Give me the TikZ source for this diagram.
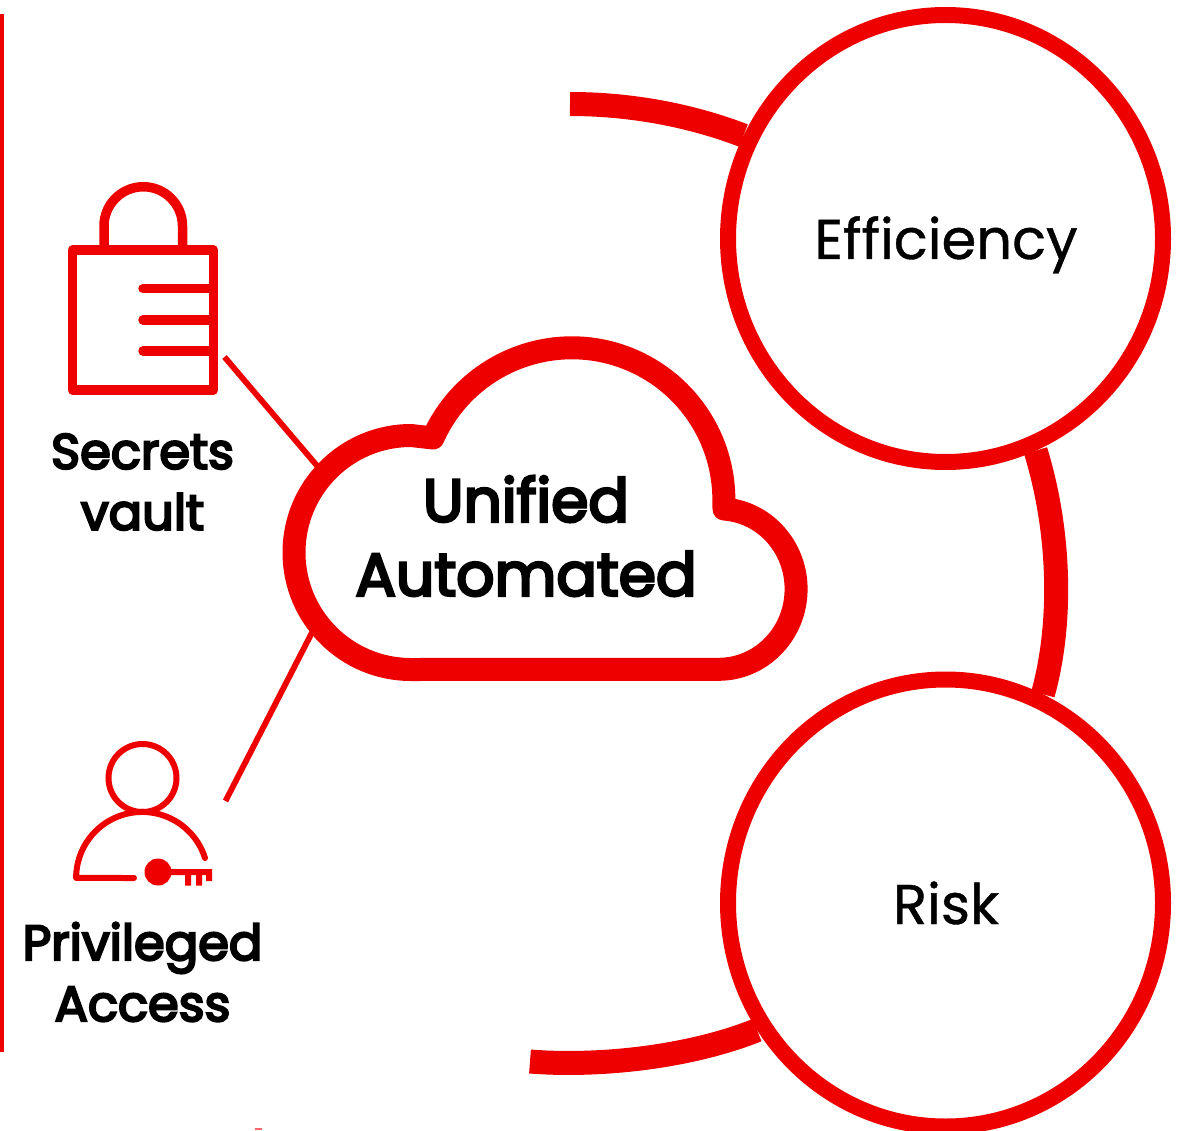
\documentclass[tikz,border=0pt]{standalone}
\usepackage{fontspec}
\setmainfont{Poppins}
\newfontfamily\medfont{Poppins}[FakeBold=0.7]
\newfontfamily\semifont{Poppins}[FakeBold=4.5]
\usetikzlibrary{shapes.geometric,backgrounds}
\definecolor{rhred}{RGB}{238,0,0}
\tikzset{
  ring/.style={draw=rhred,line width=16pt,fill=white,ellipse,inner sep=0pt},
  band/.style={draw=rhred,line width=24pt},
  thinlink/.style={draw=rhred,line width=5.8pt},
  icon/.style={draw=rhred,line width=9.5pt},
  person/.style={draw=rhred,line width=6pt,line cap=round},
  bigtext/.style={font=\medfont\fontsize{56}{56}\selectfont,text=black,anchor=base},
  cloudtext/.style={font=\semifont\fontsize{60}{74}\selectfont,text=black,align=center},
  labeltext/.style={font=\semifont\fontsize{49.5}{61}\selectfont,text=black,align=center}
}
\begin{document}
\begin{tikzpicture}[x=1pt,y=-1pt]
\useasboundingbox (0,0) rectangle (1182,1131);
% circles
\node[ring,minimum width=435pt,minimum height=447pt] (eff) at (945.5,238.5) {};
\node[ring,minimum width=435pt,minimum height=447pt] (risk) at (945.5,903) {};
\node[bigtext] (efftext) at (946,259) {Efficiency};
\node[bigtext] (risktext) at (946,924) {Risk};
\coordinate (topfree) at (570,104);
\coordinate (botfree) at (530,1061.5);
\coordinate (vaultfree) at (224.5,357);
\coordinate (cloudA) at (330,481);
\coordinate (accessfree) at (225.5,801);
\coordinate (cloudB) at (322,613);
\begin{pgfonlayer}{background}
\draw[band] (topfree) .. controls (630,104) and (690,115) .. (eff.153);
\draw[band] (eff.293) .. controls (1060,530) and (1063,622) .. (risk.65);
\draw[band] (botfree) .. controls (600,1067) and (690,1057) .. (risk.214);
\draw[thinlink] (vaultfree) -- (cloudA);
\draw[thinlink] (accessfree) -- (cloudB);
\end{pgfonlayer}
% cloud
\draw[draw=rhred,line width=23pt,fill=white,line join=round]
  (411,669.5) arc[start angle=90,end angle=270,radius=117]
  -- (433,438) arc[start angle=204,end angle=360,radius=152]
  -- (724,509) arc[start angle=-86,end angle=90,x radius=77.5,y radius=80.25]
  -- cycle;
\node[cloudtext] (cloud) at (526,536) {Unified\\Automated};
% side rule
\fill[rhred] (0,14) rectangle (4.3,1052);
% lock
\draw[icon,line join=round] (72.5,250) rectangle (213.5,390);
\draw[icon] (104,250) -- (104,226) arc[start angle=180,end angle=360,radius=39.25] -- (182.5,250);
\foreach \yy in {288.7,320,351}{
  \draw[icon,line cap=round] (143,\yy) -- (211,\yy);
}
\node[labeltext] (vault) at (142.5,482) {Secrets\\vault};
% person
\draw[person] (142.5,778) circle[radius=34];
\draw[person,line join=round] (205,858) arc[start angle=-17.6,end angle=-180,radius=66] -- (134,878);
\fill[rhred] (158,872) circle[radius=13.5];
\fill[rhred] (158,869) -- (212,869) -- (212,881) -- (206,881) -- (206,875) -- (202,875) -- (202,885.5) -- (196,885.5) -- (196,875) -- (191,875) -- (191,885.5) -- (185,885.5) -- (185,875) -- (158,875) -- cycle;
\node[labeltext] (priv) at (142.5,972) {Privileged\\Access};
\fill[rhred!60] (255,1128) rectangle (262,1129.5);
\end{tikzpicture}
\end{document}
